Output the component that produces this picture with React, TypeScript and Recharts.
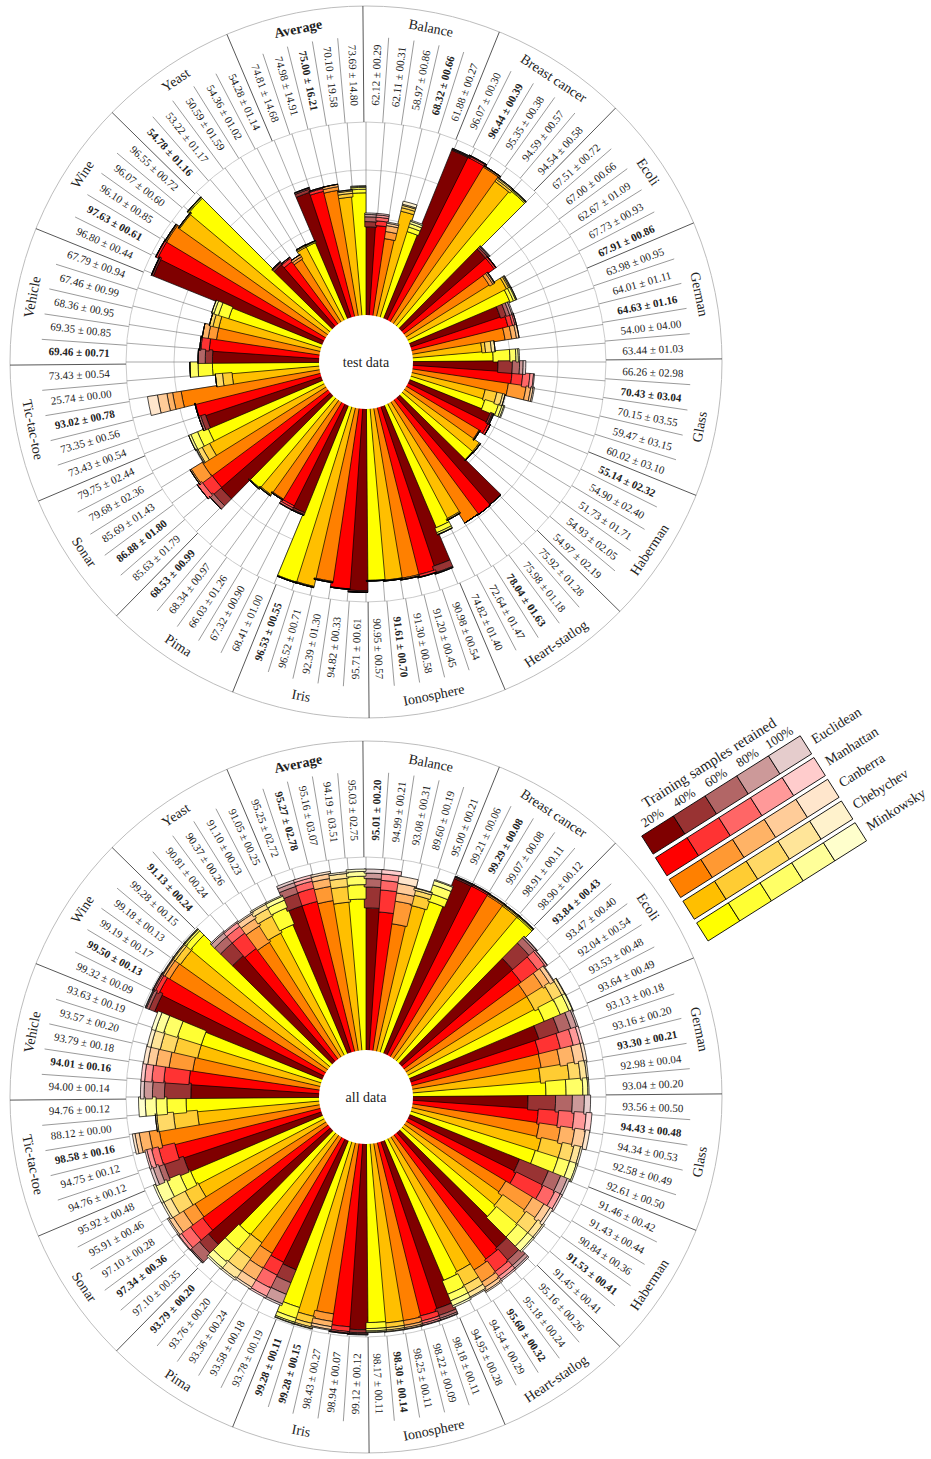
import React from 'react';
import {
  RadialBarChart,
  RadialBar,
  PolarAngleAxis,
  PolarRadiusAxis,
  PolarGrid,
  Cell,
  LabelList,
} from 'recharts';

const categories = [
  'Balance', 'Breast cancer', 'Ecoli', 'German', 'Glass', 'Haberman', 'Heart-statlog', 'Ionosphere',
  'Iris', 'Pima', 'Sonar', 'Tic-tac-toe', 'Vehicle', 'Wine', 'Yeast', 'Average',
];
const metrics = ['Euclidean', 'Manhattan', 'Canberra', 'Chebychev', 'Minkowsky'];
const retainedLevels = ['20%', '40%', '60%', '80%', '100%'];

const palette = [
  ['#7f0000', '#993333', '#b26666', '#cc9999', '#e5cccc'],
  ['#ff0000', '#ff3333', '#ff6666', '#ff9999', '#ffcccc'],
  ['#ff8000', '#ff9933', '#ffb366', '#ffcc99', '#ffe6cc'],
  ['#ffbf00', '#ffcc33', '#ffd966', '#ffe599', '#fff2cc'],
  ['#ffff00', '#ffff33', '#ffff66', '#ffff99', '#ffffcc'],
];

// ---- test data: 100% accuracy labels (mean, std) per metric, category order above
const testMeanEuclidean = [62.12, 96.07, 67.51, 63.98, 66.26, 55.14, 75.92, 90.98, 95.71, 68.41, 85.63, 73.43, 69.46, 96.80, 54.78, 74.81];
const testStdEuclidean = [0.29, 0.30, 0.72, 0.95, 2.98, 2.32, 1.28, 0.54, 0.61, 1.00, 1.79, 0.54, 0.71, 0.44, 1.16, 14.68];
const testMeanManhattan = [62.11, 96.44, 67.00, 64.01, 70.43, 54.90, 75.98, 91.20, 94.82, 67.32, 86.88, 73.35, 69.35, 97.63, 53.22, 74.98];
const testStdManhattan = [0.31, 0.39, 0.66, 1.11, 3.04, 2.40, 1.18, 0.45, 0.33, 0.90, 1.80, 0.56, 0.85, 0.61, 1.17, 14.91];
const testMeanCanberra = [58.97, 95.35, 62.67, 64.63, 70.15, 51.73, 78.04, 91.30, 92.39, 66.03, 85.69, 93.02, 68.36, 96.10, 50.59, 75.00];
const testStdCanberra = [0.86, 0.38, 1.09, 1.16, 3.55, 1.71, 1.63, 0.58, 1.30, 1.26, 1.43, 0.78, 0.95, 0.85, 1.59, 16.21];
const testMeanChebychev = [68.32, 94.59, 67.73, 54.00, 59.47, 54.93, 72.64, 91.61, 96.52, 68.34, 79.68, 25.74, 67.46, 96.07, 54.36, 70.10];
const testStdChebychev = [0.66, 0.57, 0.93, 4.00, 3.15, 2.05, 1.47, 0.70, 0.71, 0.97, 2.36, 0.00, 0.99, 0.60, 1.02, 19.58];
const testMeanMinkowsky = [61.88, 94.54, 67.91, 63.44, 60.02, 54.97, 74.82, 90.95, 96.53, 68.53, 79.75, 73.43, 67.79, 96.55, 54.28, 73.69];
const testStdMinkowsky = [0.27, 0.58, 0.86, 1.03, 3.10, 2.19, 1.40, 0.57, 0.55, 0.99, 2.44, 0.54, 0.94, 0.72, 1.14, 14.80];

// ---- all data labels
const allMeanEuclidean = [95.01, 99.21, 93.84, 93.13, 93.56, 91.46, 95.16, 98.18, 99.12, 93.78, 97.10, 94.76, 94.00, 99.32, 91.13, 95.25];
const allStdEuclidean = [0.20, 0.06, 0.43, 0.18, 0.50, 0.42, 0.26, 0.11, 0.12, 0.19, 0.35, 0.12, 0.14, 0.09, 0.24, 2.72];
const allMeanManhattan = [94.99, 99.29, 93.47, 93.16, 94.43, 91.43, 95.18, 98.22, 98.94, 93.58, 97.34, 94.75, 94.01, 99.50, 90.81, 95.27];
const allStdManhattan = [0.21, 0.08, 0.40, 0.20, 0.48, 0.44, 0.24, 0.09, 0.07, 0.18, 0.36, 0.12, 0.16, 0.13, 0.24, 2.78];
const allMeanCanberra = [93.08, 99.07, 92.04, 93.30, 94.34, 90.84, 95.60, 98.25, 98.43, 93.36, 97.10, 98.58, 93.79, 99.19, 90.37, 95.16];
const allStdCanberra = [0.31, 0.08, 0.54, 0.21, 0.53, 0.36, 0.32, 0.11, 0.27, 0.24, 0.28, 0.16, 0.18, 0.17, 0.26, 3.07];
const allMeanChebychev = [89.60, 98.91, 93.53, 92.98, 92.58, 91.53, 94.54, 98.30, 99.28, 93.76, 95.91, 88.12, 93.57, 99.18, 91.10, 94.19];
const allStdChebychev = [0.19, 0.11, 0.48, 0.04, 0.49, 0.41, 0.29, 0.14, 0.15, 0.20, 0.46, 0.00, 0.20, 0.13, 0.23, 3.51];
const allMeanMinkowsky = [95.00, 98.90, 93.64, 93.04, 92.61, 91.45, 94.95, 98.17, 99.28, 93.79, 95.92, 94.76, 93.63, 99.28, 91.05, 95.03];
const allStdMinkowsky = [0.21, 0.12, 0.49, 0.20, 0.50, 0.41, 0.28, 0.11, 0.11, 0.20, 0.48, 0.12, 0.19, 0.15, 0.25, 2.75];

// ---- visible bar boundaries (accuracy reached at 20/40/60/80/100% retained), test data
const testLevelsEuclidean = [
  [56.3, 58.5, 60.5, 61.5, 62.1], [95.2, 95.6, 95.8, 96.0, 96.1], [66.0, 67.0, 67.5, 67.8, 68.0], [59.0, 61.5, 63.0, 64.0, 64.5],
  [55.0, 61.0, 64.0, 65.5, 66.6], [56.0, 56.8, 57.2, 57.5, 57.5], [78.8, 78.8, 78.8, 78.8, 78.8], [89.6, 92.5, 92.8, 93.0, 93.0],
  [95.3, 95.9, 96.0, 96.0, 96.0], [67.8, 68.6, 69.0, 69.0, 69.0], [80.0, 84.0, 86.0, 86.0, 86.0], [70.4, 72.5, 73.4, 73.4, 73.4],
  [64.0, 67.0, 70.0, 70.0, 70.0], [95.6, 96.3, 96.5, 96.5, 96.5], [53.7, 54.6, 55.0, 55.0, 55.0], [74.5, 75.8, 76.3, 76.5, 76.5],
];
const testLevelsManhattan = [
  [57.0, 59.0, 60.5, 61.5, 62.1], [95.3, 96.0, 96.3, 96.4, 96.4], [66.0, 66.8, 67.0, 67.0, 67.0], [61.0, 63.0, 64.0, 64.6, 64.6],
  [61.0, 65.5, 68.5, 70.0, 70.4], [57.0, 58.0, 58.0, 58.0, 58.0], [79.0, 79.0, 79.0, 79.0, 79.0], [91.3, 92.3, 92.5, 92.5, 92.5],
  [94.8, 95.0, 95.0, 95.0, 95.0], [67.0, 68.0, 68.8, 69.0, 69.0], [79.7, 84.7, 87.0, 87.0, 87.0], [73.2, 73.4, 73.4, 73.4, 73.4],
  [65.5, 69.0, 69.5, 69.5, 69.5], [97.0, 97.8, 98.0, 98.0, 98.0], [52.0, 53.5, 54.0, 54.0, 54.0], [73.3, 74.5, 74.8, 75.0, 75.0],
];
const testLevelsCanberra = [
  [52.0, 55.0, 57.5, 58.5, 59.0], [94.8, 95.3, 95.5, 95.5, 95.5], [60.5, 62.0, 62.7, 63.0, 63.0], [58.7, 61.5, 63.5, 64.6, 64.6],
  [60.0, 67.5, 69.5, 70.5, 71.0], [55.0, 55.3, 55.5, 55.5, 55.5], [78.7, 78.7, 78.7, 78.7, 78.7], [91.3, 91.8, 92.0, 92.0, 92.0],
  [92.5, 92.8, 93.0, 93.0, 93.0], [66.7, 67.0, 67.2, 67.2, 67.2], [80.0, 85.4, 86.0, 86.0, 86.0], [78.0, 81.6, 84.0, 88.0, 92.2],
  [63.0, 66.5, 69.0, 69.0, 69.0], [97.0, 97.5, 97.8, 97.8, 97.8], [50.4, 51.5, 52.5, 52.5, 52.5], [72.5, 74.0, 75.0, 75.0, 75.0],
];
const testLevelsChebychev = [
  [64.5, 66.0, 67.0, 67.5, 68.8], [92.5, 93.5, 94.2, 94.6, 94.6], [66.0, 67.0, 67.5, 67.8, 68.0], [48.5, 50.0, 52.5, 54.0, 54.0],
  [51.0, 56.0, 58.5, 59.5, 59.5], [58.0, 58.5, 58.6, 58.6, 58.6], [73.5, 74.0, 74.2, 74.2, 74.2], [91.2, 91.5, 91.6, 91.6, 91.6],
  [96.0, 96.3, 96.5, 96.5, 96.5], [68.0, 68.4, 68.6, 68.6, 68.6], [73.5, 77.0, 79.0, 79.5, 79.7], [56.0, 60.0, 63.0, 63.0, 63.0],
  [63.0, 65.5, 67.0, 67.0, 67.0], [95.5, 95.9, 96.1, 96.1, 96.1], [54.0, 54.6, 55.0, 55.0, 55.0], [69.0, 70.5, 71.5, 72.0, 72.0],
];
const testLevelsMinkowsky = [
  [57.0, 59.0, 60.5, 61.5, 62.0], [93.5, 94.0, 94.3, 94.5, 94.5], [65.0, 66.5, 67.5, 67.9, 68.0], [53.0, 60.0, 62.5, 63.5, 64.0],
  [52.0, 58.0, 59.5, 60.3, 60.7], [58.0, 58.2, 58.3, 58.3, 58.3], [75.0, 77.0, 77.8, 78.0, 78.0], [91.0, 91.2, 91.3, 91.3, 91.3],
  [96.2, 96.5, 96.6, 96.6, 96.6], [68.7, 69.0, 69.2, 69.2, 69.2], [71.4, 76.0, 79.0, 80.0, 80.0], [64.0, 70.0, 73.4, 73.4, 73.4],
  [60.0, 64.5, 66.5, 67.5, 67.5], [96.5, 97.0, 97.3, 97.3, 97.3], [54.0, 54.5, 54.8, 54.8, 54.8], [70.5, 72.0, 72.8, 73.2, 73.5],
];

// ---- visible bar boundaries, all data
const allLevelsEuclidean = [
  [78.8, 87.5, 91.0, 93.3, 95.0], [98.2, 98.8, 99.0, 99.2, 99.3], [81.0, 90.0, 93.0, 93.8, 94.0], [76.0, 84.7, 90.0, 92.5, 93.2],
  [67.5, 79.0, 86.0, 91.0, 93.6], [69.0, 82.0, 87.5, 90.5, 91.5], [83.0, 90.0, 93.0, 94.5, 95.2], [93.0, 96.0, 97.3, 98.0, 98.2],
  [97.0, 98.3, 98.8, 99.0, 99.2], [77.7, 83.5, 88.7, 93.0, 93.8], [87.0, 92.0, 96.5, 97.0, 97.1], [80.0, 88.6, 91.0, 93.5, 94.8],
  [73.0, 84.0, 89.0, 92.5, 94.0], [95.0, 97.5, 98.7, 99.1, 99.3], [78.0, 85.0, 88.5, 90.5, 91.1], [84.0, 89.5, 92.5, 94.2, 95.3],
];
const allLevelsManhattan = [
  [77.3, 86.5, 90.5, 93.2, 95.0], [98.3, 98.9, 99.1, 99.2, 99.3], [80.4, 89.0, 92.5, 93.3, 93.5], [74.3, 83.5, 89.0, 92.0, 93.2],
  [72.0, 80.5, 87.0, 92.0, 94.4], [70.0, 82.5, 88.0, 90.5, 91.4], [84.0, 90.5, 93.0, 94.5, 95.2], [94.0, 96.2, 97.3, 98.0, 98.2],
  [96.0, 98.0, 98.6, 98.9, 98.9], [77.0, 83.0, 89.0, 92.8, 93.6], [84.7, 91.0, 95.7, 97.0, 97.3], [82.0, 89.0, 92.0, 94.0, 94.8],
  [74.0, 84.5, 89.5, 92.5, 94.0], [96.5, 98.3, 99.0, 99.4, 99.5], [77.0, 85.0, 88.5, 90.3, 90.8], [84.0, 89.7, 92.7, 94.2, 95.3],
];
const allLevelsCanberra = [
  [73.0, 82.5, 86.0, 90.0, 93.1], [98.0, 98.6, 98.9, 99.0, 99.1], [79.0, 86.7, 90.0, 91.8, 92.1], [74.0, 82.0, 88.0, 92.0, 93.3],
  [73.0, 82.0, 88.0, 92.5, 94.3], [68.0, 81.0, 86.5, 89.5, 90.8], [85.0, 91.0, 93.5, 95.0, 95.6], [94.5, 96.5, 97.5, 98.1, 98.3],
  [91.4, 94.6, 96.8, 98.0, 98.4], [76.0, 83.3, 89.0, 92.5, 93.4], [84.0, 89.7, 94.7, 96.5, 97.1], [87.3, 91.5, 95.7, 97.5, 98.6],
  [73.0, 83.0, 88.5, 92.0, 93.8], [95.5, 97.8, 98.7, 99.0, 99.2], [76.0, 84.0, 87.5, 89.8, 90.4], [83.0, 89.0, 92.3, 94.3, 95.2],
];
const allLevelsChebychev = [
  [82.0, 86.5, 88.5, 89.4, 89.6], [97.8, 98.4, 98.7, 98.9, 98.9], [79.0, 87.7, 92.0, 93.3, 93.5], [73.0, 85.0, 89.7, 92.3, 93.0],
  [75.0, 84.0, 89.0, 91.8, 92.6], [70.0, 82.0, 88.0, 90.8, 91.5], [82.0, 88.5, 92.0, 94.0, 94.5], [94.5, 96.5, 97.5, 98.1, 98.3],
  [94.0, 97.0, 98.5, 99.1, 99.3], [74.6, 82.7, 89.3, 93.0, 93.8], [78.6, 85.0, 91.6, 95.0, 95.9], [70.5, 80.5, 87.5, 88.1, 88.1],
  [72.0, 82.0, 88.0, 92.0, 93.6], [95.0, 97.7, 98.7, 99.1, 99.2], [77.0, 85.0, 88.5, 90.5, 91.1], [81.5, 88.0, 91.5, 93.5, 94.2],
];
const allLevelsMinkowsky = [
  [85.6, 89.0, 92.7, 94.6, 95.0], [97.8, 98.4, 98.7, 98.9, 98.9], [80.7, 88.0, 92.0, 93.4, 93.6], [75.0, 83.4, 90.4, 92.5, 93.0],
  [74.0, 84.0, 89.0, 92.0, 92.6], [71.0, 82.5, 88.0, 90.8, 91.5], [83.0, 89.0, 92.0, 94.2, 95.0], [94.0, 96.5, 97.5, 98.0, 98.2],
  [92.0, 96.7, 98.5, 99.1, 99.3], [75.0, 83.0, 90.0, 93.0, 93.8], [79.4, 84.0, 90.0, 95.0, 95.9], [75.0, 83.0, 87.5, 92.0, 94.8],
  [72.0, 82.5, 88.5, 92.0, 93.7], [95.5, 98.0, 98.8, 99.1, 99.3], [78.0, 85.5, 88.8, 90.6, 91.1], [82.5, 88.5, 92.0, 94.0, 95.0],
];

const FONT = '"Liberation Serif", "DejaVu Serif", serif';
const RAD = Math.PI / 180;
const BAR_R = 240;
const pol = (cx: number, cy: number, r: number, a: number): [number, number] => [
  cx + r * Math.cos(-a * RAD),
  cy + r * Math.sin(-a * RAD),
];

type Row = { key: string; c: number; m: number; [k: string]: any };

function buildRows(levelSets: number[][][]): Row[] {
  const rows: Row[] = [];
  categories.forEach((cat, c) => {
    metrics.forEach((met, m) => {
      const lv = levelSets[m][c];
      const row: Row = { key: `${cat}|${met}`, c, m };
      lv.forEach((v, k) => {
        row[`s${k}`] = k === 0 ? v : Math.max(0, v - lv[k - 1]);
      });
      rows.push(row);
    });
  });
  return rows;
}

const fmt = (mean: number, std: number) => `${mean.toFixed(2)} ± ${std.toFixed(2).padStart(5, '0')}`;

function PolarPanel(props: {
  title: string;
  top: number;
  levelSets: number[][][];
  means: number[][];
  stds: number[][];
}) {
  const { title, top, levelSets, means, stds } = props;
  const rows = buildRows(levelSets);
  const n = rows.length;
  const band = 360 / n;
  const barEdges = rows.map((_, i) => 90 - i * band);

  const renderLabel = (p: any) => {
    const vb = p.viewBox || {};
    const { cx, cy, startAngle, endAngle } = vb;
    if (cx == null || startAngle == null) return null;
    let idx = p.index;
    if (idx == null || rows[idx] == null || rows[idx].key !== p.value) {
      idx = rows.findIndex((r) => r.key === p.value);
    }
    const row = rows[idx];
    if (!row) return null;
    const { c, m } = row;
    const mid = (startAngle + endAngle) / 2;
    const edge = Math.max(startAngle, endAngle);
    const isCat = m === 0;
    const [x1, y1] = pol(cx, cy, BAR_R, edge);
    const [x2, y2] = pol(cx, cy, isCat ? 356 : 325, edge);
    const [tx, ty] = pol(cx, cy, 287, mid);
    let rot = -mid;
    if (Math.cos(mid * RAD) < 0) rot += 180;
    const catVals = means.map((arr) => arr[c]);
    const best = Math.max(...catVals);
    const bold = means[m][c] === best;
    const out: any[] = [];
    out.push(
      <line key="sep" x1={x1} y1={y1} x2={x2} y2={y2} stroke={isCat ? '#444' : '#555'} strokeWidth={isCat ? 0.9 : 0.6} />,
    );
    out.push(
      <text
        key="val"
        x={tx}
        y={ty}
        transform={`rotate(${rot} ${tx} ${ty})`}
        textAnchor="middle"
        dominantBaseline="central"
        fontSize={11}
        fontFamily={FONT}
        fontWeight={bold ? 'bold' : 'normal'}
        fill="#222"
      >
        {fmt(means[m][c], stds[m][c])}
      </text>,
    );
    if (m === 2) {
      const [nx, ny] = pol(cx, cy, 340, mid);
      const nrot = Math.sin(mid * RAD) > 0 ? 90 - mid : -90 - mid;
      out.push(
        <text
          key="name"
          x={nx}
          y={ny}
          transform={`rotate(${nrot} ${nx} ${ny})`}
          textAnchor="middle"
          dominantBaseline="central"
          fontSize={14}
          fontFamily={FONT}
          fontWeight={categories[c] === 'Average' ? 'bold' : 'normal'}
          fill="#222"
        >
          {categories[c]}
        </text>,
      );
    }
    if (idx === 0) {
      out.push(<circle key="hole" cx={cx} cy={cy} r={47} fill="#fff" />);
      out.push(
        <text key="title" x={cx} y={cy} textAnchor="middle" dominantBaseline="central" fontSize={14} fontFamily={FONT} fill="#222">
          {title}
        </text>,
      );
    }
    return <g>{out}</g>;
  };

  return (
    <div style={{ position: 'absolute', left: 0, top, width: 732, height: 724 }}>
      <RadialBarChart
        width={732}
        height={724}
        data={rows}
        cx={366}
        cy={362}
        innerRadius={0}
        outerRadius={BAR_R}
        startAngle={90 - band}
        endAngle={-270 - band}
        layout="centric"
        barCategoryGap={0}
        barGap={0}
        margin={{ top: 0, right: 0, bottom: 0, left: 0 }}
      >
        <PolarGrid gridType="circle" radialLines={false} stroke="#cccccc" strokeWidth={1} />
        <PolarGrid gridType="circle" radialLines={false} polarRadius={[356]} stroke="#bdbdbd" strokeWidth={1} />
        <PolarGrid gridType="circle" radialLines={true} polarAngles={barEdges} polarRadius={[]} outerRadius={BAR_R} stroke="#707070" strokeWidth={0.6} />
        <PolarAngleAxis type="category" dataKey="key" tick={false} axisLine={false} tickLine={false} />
        <PolarRadiusAxis type="number" domain={[0, 100]} ticks={[0, 20, 40, 60, 80, 100]} tick={false} axisLine={false} tickLine={false} />
        {retainedLevels.map((lvl, k) => (
          <RadialBar
            key={lvl}
            dataKey={`s${k}`}
            stackId="acc"
            isAnimationActive={false}
            stroke="#000"
            strokeWidth={0.7}
          >
            {rows.map((r, i) => (
              <Cell key={i} fill={palette[r.m][k]} />
            ))}
            {k === retainedLevels.length - 1 && <LabelList dataKey="key" content={renderLabel} />}
          </RadialBar>
        ))}
      </RadialBarChart>
    </div>
  );
}

function RetainedLegend() {
  const cw = 37.5;
  const ch = 21.4;
  const step = 25.7;
  return (
    <svg width={931} height={1459} style={{ position: 'absolute', left: 0, top: 0, pointerEvents: 'none' }}>
      <g transform="translate(641.7 836) rotate(-32.3)" fontFamily={FONT} fill="#222">
        <text x={96} y={-26} textAnchor="middle" dominantBaseline="central" fontSize={15}>
          Training samples retained
        </text>
        {retainedLevels.map((lvl, j) => (
          <text key={lvl} x={j * cw + cw / 2} y={-10} textAnchor="middle" dominantBaseline="central" fontSize={13}>
            {lvl}
          </text>
        ))}
        {metrics.map((met, i) => (
          <g key={met}>
            {retainedLevels.map((lvl, j) => (
              <rect key={lvl} x={j * cw} y={i * step} width={cw} height={ch} fill={palette[i][j]} stroke="#000" strokeWidth={0.8} />
            ))}
            <text x={5 * cw + 8} y={i * step + ch / 2} dominantBaseline="central" fontSize={14}>
              {met}
            </text>
          </g>
        ))}
      </g>
    </svg>
  );
}

export default function App() {
  const testMeans = [testMeanEuclidean, testMeanManhattan, testMeanCanberra, testMeanChebychev, testMeanMinkowsky];
  const testStds = [testStdEuclidean, testStdManhattan, testStdCanberra, testStdChebychev, testStdMinkowsky];
  const allMeans = [allMeanEuclidean, allMeanManhattan, allMeanCanberra, allMeanChebychev, allMeanMinkowsky];
  const allStds = [allStdEuclidean, allStdManhattan, allStdCanberra, allStdChebychev, allStdMinkowsky];
  const testLevels = [testLevelsEuclidean, testLevelsManhattan, testLevelsCanberra, testLevelsChebychev, testLevelsMinkowsky];
  const allLevels = [allLevelsEuclidean, allLevelsManhattan, allLevelsCanberra, allLevelsChebychev, allLevelsMinkowsky];
  return (
    <div style={{ position: 'absolute', left: 0, top: 0, width: 931, height: 1459, background: '#fff', fontFamily: FONT }}>
      <PolarPanel title="test data" top={0} levelSets={testLevels} means={testMeans} stds={testStds} />
      <PolarPanel title="all data" top={735} levelSets={allLevels} means={allMeans} stds={allStds} />
      <RetainedLegend />
    </div>
  );
}
